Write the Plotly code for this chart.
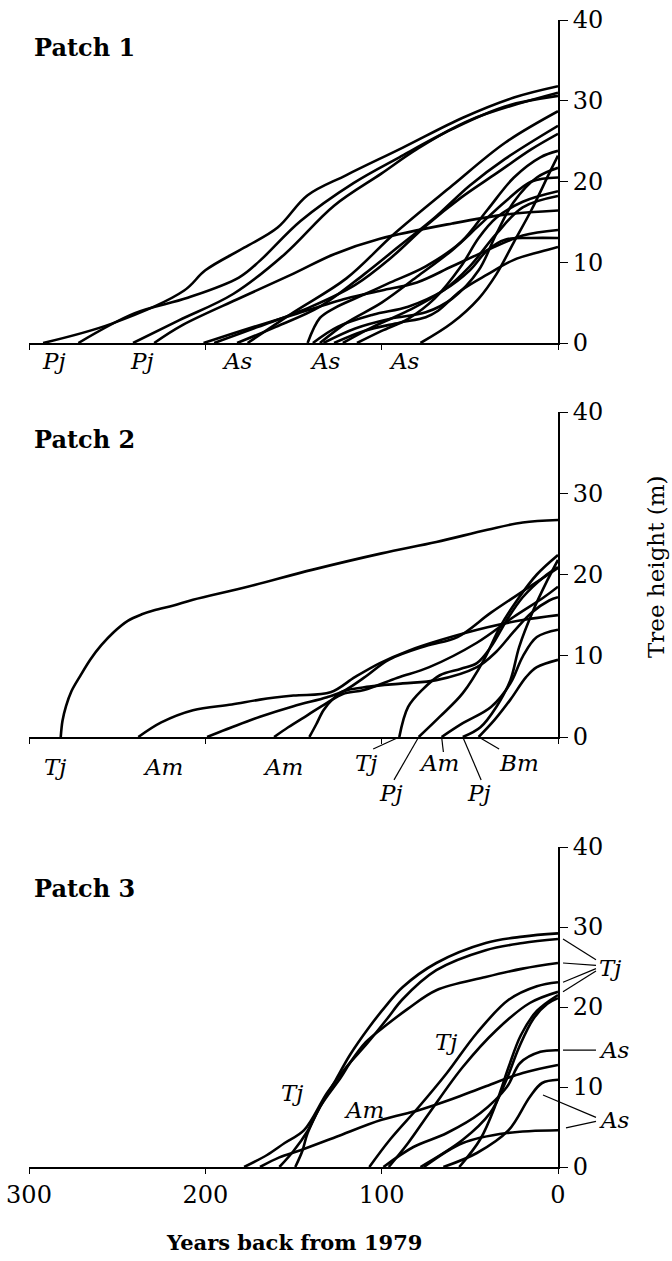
import plotly.graph_objects as go

# ---------------------------------------------------------------------------
# Height trajectories of individual trees: (years back from 1979, height m)
# ---------------------------------------------------------------------------
# Patch 1
p1_01 = ([292, 253, 212, 200, 178, 159, 142, 120, 88, 54, 25, 0],
         [0, 2.4, 6.5, 9.0, 11.8, 14.3, 18.3, 20.8, 24.2, 27.9, 30.4, 31.8])
p1_02 = ([272, 240, 210, 181, 169, 146, 116, 90, 60, 30, 0],
         [0, 3.7, 5.6, 8.1, 10.2, 15.1, 19.8, 23.0, 26.5, 29.3, 30.6])
p1_03 = ([241, 215, 184, 155, 127, 100, 80, 50, 0],
         [0, 2.8, 6.1, 11, 17, 21, 24, 27.6, 31.0])
p1_04 = ([229, 214, 180, 150, 127, 101, 60, 30, 0],
         [0, 2.1, 5.6, 8.6, 11, 12.9, 14.8, 15.9, 16.4])
p1_05 = ([176, 150, 120, 93, 60, 30, 0],
         [0, 3.8, 8, 13.5, 19.5, 24.8, 28.7])
p1_06 = ([201, 180, 150, 120, 100, 80, 60, 40, 20, 0],
         [0, 1.5, 3.5, 5.5, 6.5, 7.5, 9.5, 11.5, 13.3, 14.0])
p1_07 = ([195, 170, 140, 115, 95, 75, 55, 35, 15, 0],
         [0, 2.0, 4.5, 7.2, 10.5, 14.5, 18, 21, 24, 25.9])
p1_08 = ([182, 160, 135, 110, 90, 70, 50, 30, 0],
         [0, 2.0, 4.5, 8.5, 12.0, 15.5, 19.5, 22.8, 26.9])
p1_09 = ([142, 135, 127, 110, 95, 75, 55, 40, 25, 10, 0],
         [0, 3.1, 4.3, 6.0, 7.5, 9.5, 12.5, 16.5, 20.5, 23.0, 23.8])
p1_10 = ([139, 125, 105, 85, 65, 50, 40, 30, 15, 0],
         [0, 2.0, 3.5, 4.5, 6.5, 9, 11.5, 12.8, 13, 13.0])
p1_11 = ([135, 120, 100, 80, 60, 45, 30, 15, 0],
         [0, 2.5, 5, 8.2, 11.5, 14.5, 17.5, 20.0, 20.5])
p1_12 = ([133, 115, 95, 75, 60, 45, 35, 25, 12, 0],
         [0, 1.8, 3.0, 3.8, 5.5, 9, 13.5, 17.5, 20.5, 21.7])
p1_13 = ([127, 110, 90, 75, 68, 55, 40, 25, 10, 0],
         [0, 1.5, 2.5, 3.2, 4.0, 6.5, 8.5, 10.3, 11.3, 11.9])
p1_14 = ([114, 100, 85, 70, 55, 45, 35, 20, 0],
         [0, 1.5, 3.0, 5.5, 9.5, 13, 15.5, 17.5, 18.8])
p1_15 = ([78, 60, 45, 35, 25, 15, 5, 0],
         [0, 2.5, 5.5, 8.5, 12.5, 16.5, 21, 23.2])
p1_16 = ([122, 105, 85, 65, 50, 35, 20, 0],
         [0, 2.0, 4.0, 6.5, 9.5, 13.5, 16.8, 18.2])
patch1 = [p1_01, p1_02, p1_03, p1_04, p1_05, p1_06, p1_07, p1_08,
          p1_09, p1_10, p1_11, p1_12, p1_13, p1_14, p1_15, p1_16]

# Patch 2
p2_01 = ([282, 281, 279, 276, 271, 265, 259, 252, 244, 236, 229, 218, 207, 176, 139, 100, 69, 40, 20, 0],
         [0, 2.0, 3.8, 5.6, 7.5, 9.6, 11.3, 12.9, 14.3, 15.1, 15.6, 16.2, 16.9, 18.5, 20.6, 22.6, 24.0, 25.5, 26.4, 26.7])
p2_02 = ([238, 225, 207, 185, 169, 150, 129, 115, 101, 85, 67, 40, 20, 0],
         [0, 1.8, 3.3, 4.0, 4.6, 5.1, 5.5, 7.4, 9.1, 10.6, 11.9, 13.5, 14.4, 15.0])
p2_03 = ([199, 185, 169, 150, 131, 122, 110, 96, 75, 57, 38, 16, 0],
         [0, 1.2, 2.5, 3.8, 4.9, 5.6, 7.3, 9.5, 11.2, 12.3, 15.3, 18.5, 20.8])
p2_04 = ([161, 153, 142, 131, 122, 110, 91, 73, 46, 25, 8, 0],
         [0, 1.2, 2.7, 4.2, 5.3, 5.8, 7.3, 8.6, 11.6, 14.8, 17.2, 18.5])
p2_05 = ([141, 137, 133, 128, 122, 107, 88, 69, 46, 35, 25, 15, 5, 0],
         [0, 1.6, 3.3, 4.6, 5.6, 6.2, 6.6, 7.0, 8.6, 10.5, 13.0, 15.3, 16.8, 17.2])
p2_06 = ([90, 85, 77, 67, 55, 46, 38, 29, 20, 8, 0],
         [0, 3.7, 5.8, 7.6, 8.4, 9.1, 11.1, 14.4, 17.2, 19.7, 20.9])
p2_07 = ([79, 67, 54, 42, 33, 23, 12, 0],
         [0, 2.5, 5.4, 9.5, 13.5, 16.9, 20.0, 22.4])
p2_08 = ([66, 54, 38, 27, 20, 12, 0],
         [0, 1.7, 3.7, 6.6, 9.9, 12.3, 13.2])
p2_09 = ([54, 44, 35, 27, 22, 14, 6, 0],
         [0, 1.2, 3.7, 7.0, 11.1, 15.6, 19.3, 21.8])
p2_10 = ([45, 36, 27, 18, 12, 0],
         [0, 2.1, 4.6, 7.4, 8.6, 9.5])
patch2 = [p2_01, p2_02, p2_03, p2_04, p2_05, p2_06, p2_07, p2_08, p2_09, p2_10]

# Patch 3
p3_01 = ([178, 165, 155, 144, 131, 120, 108, 97, 88, 69, 41, 20, 0],
         [0, 1.5, 3.0, 4.6, 9.25, 12.5, 15.5, 18.5, 21.0, 24.6, 27.1, 28.0, 28.5])
p3_02 = ([158, 150, 142, 135, 126, 118, 107, 97, 88, 69, 41, 20, 0],
         [0, 2.0, 4.5, 7.5, 10.9, 14.0, 17.5, 20.3, 22.5, 25.5, 28, 28.8, 29.2])
p3_03 = ([149, 145, 142, 135, 123, 118, 109, 97, 85, 69, 41, 20, 0],
         [0, 2.0, 4.25, 7.5, 11.25, 13.0, 15.6, 17.8, 19.8, 22.1, 23.75, 24.8, 25.5])
p3_04 = ([169, 158, 146, 126, 100, 79, 60, 42, 20, 0],
         [0, 1.2, 2.1, 3.75, 5.9, 7.1, 8.5, 10, 11.75, 12.75])
p3_05 = ([107, 95, 79, 63, 46, 28, 12, 0],
         [0, 3.5, 7.5, 11.75, 16.75, 20.9, 22.6, 23.1])
p3_06 = ([96, 85, 73, 54, 35, 16, 0],
         [0, 3.0, 6.75, 12.5, 17.1, 20.5, 21.9])
p3_07 = ([99, 82, 63, 44, 29, 21.5, 10, 0],
         [0, 2.5, 4.25, 6.75, 10, 13, 14.4, 14.6])
p3_08 = ([76, 54, 29, 0],
         [0, 3, 4.25, 4.6])
p3_09 = ([65, 46, 28, 16, 9, 0],
         [0, 1.75, 4.6, 8.75, 10.5, 10.9])
p3_10 = ([78, 54, 38.5, 30, 22, 14, 6, 0],
         [0, 3.4, 6.75, 10.5, 15, 18.5, 20.4, 21.1])
p3_11 = ([56, 44, 35, 28, 21, 12, 0],
         [0, 3.5, 8.0, 12.5, 16.5, 19.5, 21.5])
patch3 = [p3_01, p3_02, p3_03, p3_04, p3_05, p3_06, p3_07, p3_08, p3_09, p3_10, p3_11]

# Species labels set under the establishment years
p1_species = ["Pj", "Pj", "As", "As", "As"]
p1_species_years = [286, 236, 182, 132, 87]
p2_species = ["Tj", "Am", "Am"]
p2_species_years = [285, 224, 156]
# labelled with leader lines: (label, label year, row, leader tail year, establishment year)
p2_pointed = [("Tj", 108.8, 0, 104.8, 90), ("Pj", 94.6, 1, 93.0, 79),
              ("Am", 67.4, 0, 65.0, 66), ("Pj", 44.8, 1, 43.6, 54),
              ("Bm", 22.1, 0, 33.4, 45)]
p3_inside = [("Tj", 151, 9.25), ("Am", 110, 7.1), ("Tj", 63.5, 15.6)]
p3_tj_ends = [28.5, 25.5, 23.1, 21.9]

x_ticks = [300, 200, 100, 0]
y_ticks = [0, 10, 20, 30, 40]

# ---------------------------------------------------------------------------
SERIF = "DejaVu Serif"
W, H = 672, 1261
x_dom = [29 / W, 558 / W]
y_doms = [[1 - 343 / H, 1 - 20 / H],
          [1 - 737 / H, 1 - 412 / H],
          [1 - 1167 / H, 1 - 847 / H]]

fig = go.Figure()
for i, patch in enumerate([patch1, patch2, patch3]):
    sfx = "" if i == 0 else str(i + 1)
    for yrs, hts in patch:
        fig.add_trace(go.Scatter(
            x=yrs, y=hts, mode="lines",
            line=dict(color="black", width=2.6, shape="spline", smoothing=1.0),
            xaxis="x" + sfx, yaxis="y" + sfx, showlegend=False, hoverinfo="skip"))

layout = dict(
    width=W, height=H, margin=dict(l=0, r=0, t=0, b=0, pad=0, autoexpand=False),
    paper_bgcolor="white", plot_bgcolor="white", showlegend=False,
    font=dict(family=SERIF, color="black", size=22),
)
for i in range(3):
    sfx = "" if i == 0 else str(i + 1)
    layout["xaxis" + sfx] = dict(
        domain=x_dom, anchor="y" + sfx, range=[300, 0], automargin=False,
        showline=True, linecolor="black", linewidth=1.6,
        ticks="outside", tickvals=x_ticks, ticklen=5, tickwidth=1.4, tickcolor="black",
        showticklabels=(i == 2), tickfont=dict(family=SERIF, size=24, color="black"),
        showgrid=False, zeroline=False, fixedrange=True)
    layout["yaxis" + sfx] = dict(
        domain=y_doms[i], anchor="x" + sfx, side="right", range=[0, 40], automargin=False,
        showline=True, linecolor="black", linewidth=1.8,
        ticks="outside", tickvals=y_ticks, ticklen=8, tickwidth=1.4, tickcolor="black",
        tickfont=dict(family=SERIF, size=24, color="black"),
        showgrid=False, zeroline=False, fixedrange=True)
fig.update_layout(**layout)

ann = []
shapes = []
LEADER = dict(color="black", width=1.2)


def label(text, xref, yref, x, y, size=23, **kw):
    d = dict(text=text, xref=xref, yref=yref, x=x, y=y, showarrow=False,
             xanchor="center", yanchor="middle", font=dict(family=SERIF, size=size))
    d.update(kw)
    ann.append(d)


# Patch titles
for i, py in enumerate([48, 439, 888]):
    label("<b>Patch %d</b>" % (i + 1), "paper", "paper", 32 / W, 1 - py / H,
          size=24, xanchor="left")

# Patch 1 species
for sp, yr in zip(p1_species, p1_species_years):
    label("<i>%s</i>" % sp, "x", "paper", yr, 1 - 361 / H)

# Patch 2 species
for sp, yr in zip(p2_species, p2_species_years):
    label("<i>%s</i>" % sp, "x2", "paper", yr, 1 - 767 / H)
row_y = [1 - 763 / H, 1 - 793 / H]
row_tail = [-0.037, -0.132]
for sp, yr, row, tail, est in p2_pointed:
    label("<i>%s</i>" % sp, "x2", "paper", yr, row_y[row])
    shapes.append(dict(type="line", xref="x2", yref="y2 domain",
                       x0=tail, y0=row_tail[row] if sp != "Am" else -0.046,
                       x1=est, y1=0, line=LEADER))

# Patch 3 labels inside the plot
for sp, yr, h in p3_inside:
    label("<i>%s</i>" % sp, "x3", "y3", yr, h)

# Patch 3 labels at the right with leader lines
label("<i>Tj</i>", "paper", "y3", 610 / W, 24.9)
label("<i>As</i>", "paper", "y3", 614 / W, 14.6)
label("<i>As</i>", "paper", "y3", 614 / W, 5.9)
for tail, end in zip([25.9, 25.2, 24.8, 24.5], p3_tj_ends):
    shapes.append(dict(type="line", xref="x3 domain", yref="y3",
                       x0=1.0718, y0=tail, x1=1.0095, y1=end, line=LEADER))
shapes.append(dict(type="line", xref="x3 domain", yref="y3",
                   x0=1.0718, y0=14.6, x1=1.0095, y1=14.6, line=LEADER))
shapes.append(dict(type="line", xref="x3 domain", yref="y3",
                   x0=1.0718, y0=6.2, x1=0.9716, y1=9.0, line=LEADER))
shapes.append(dict(type="line", xref="x3 domain", yref="y3",
                   x0=1.0718, y0=5.7, x1=1.0151, y1=4.9, line=LEADER))

# Axis titles
label("Tree height (m)", "paper", "paper", 656 / W, 1 - 567 / H, textangle=-90)
label("<b>Years back from 1979</b>", "paper", "paper", 294 / W, 1 - 1242 / H, size=21)

fig.update_layout(annotations=ann, shapes=shapes)
fig.write_html("out.html")
